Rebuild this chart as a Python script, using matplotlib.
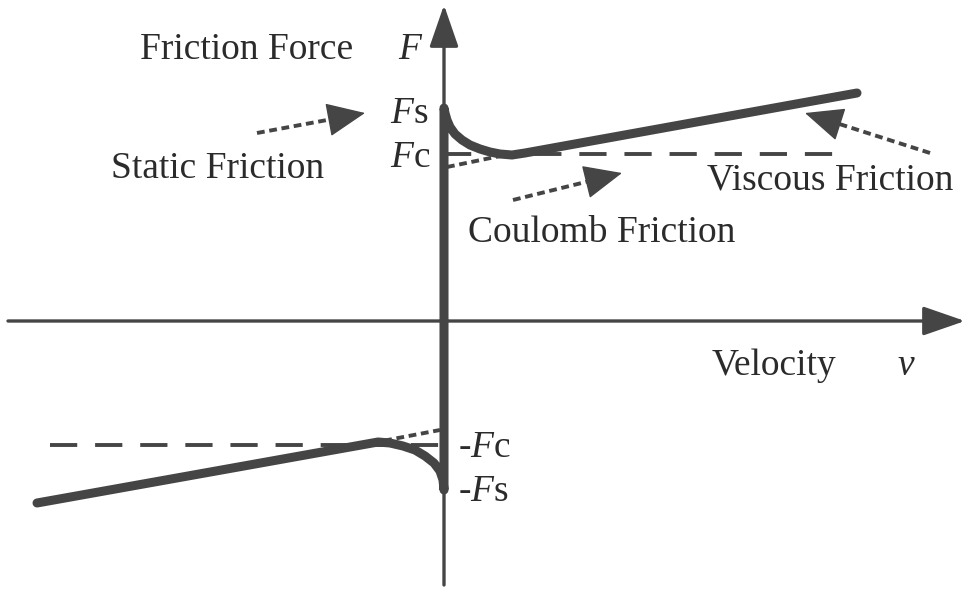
import matplotlib.pyplot as plt

plt.rcParams["font.family"] = "Liberation Serif"
plt.rcParams["mathtext.fontset"] = "custom"
plt.rcParams["mathtext.rm"] = "Liberation Serif"
plt.rcParams["mathtext.it"] = "Liberation Serif:italic"

# Stribeck friction curve (v: velocity, f: force)
upper_v = [0, 0, 1, 3, 6, 11, 18, 26, 36, 46, 56, 68, 81, 413]
upper_f = [0, 213, 208, 201, 194, 187, 181, 176, 172, 169, 167, 166, 168, 228]
lower_v = [0, 0, -1, -4, -10, -19, -29, -41, -54, -66, -407]
lower_f = [0, -169, -159, -150, -142, -135, -129, -125, -122, -121, -182]

# Coulomb level (+Fc / -Fc) and viscous extensions back to the force axis
fc_v = [0, 401]
fc_f = [167, 167]
neg_fc_v = [-394, 0]
neg_fc_f = [-124, -124]
ext_up_v = [3, 61]
ext_up_f = [154, 166]
ext_dn_v = [-72, -4]
ext_dn_f = [-122, -109]

# pointer arrows: (start, tip)
pointers = {
    "static": ((-187, 188), (-79, 208)),
    "coulomb": ((69, 121), (178, 148)),
    "viscous": ((486, 168), (361, 208)),
}

LINE = "#454545"
TEXT = "#2b2b2b"

fig = plt.figure(figsize=(9.66, 5.89), dpi=100)
ax = fig.add_axes([0, 0, 1, 1])
ax.set_xlim(-444, 522)
ax.set_ylim(-268, 321)
ax.axis("off")

# axes with arrow heads
axis_head = dict(arrowstyle="-|>,head_length=1.3,head_width=0.45",
                 color=LINE, lw=2.4, shrinkA=0, shrinkB=0, mutation_scale=20)
ax.annotate("", xy=(0, 316), xytext=(0, -264), arrowprops=axis_head)
ax.annotate("", xy=(521, 0), xytext=(-436, 0), arrowprops=axis_head)

# Coulomb friction levels
ax.plot(fc_v, fc_f, color=LINE, lw=2.8, ls=(0, (7, 4.6)), dash_capstyle="butt")
ax.plot(neg_fc_v, neg_fc_f, color=LINE, lw=2.8, ls=(0, (7, 4.6)), dash_capstyle="butt")

# viscous extension lines
ax.plot(ext_up_v, ext_up_f, color=LINE, lw=2.8, ls=(0, (2, 1.2)))
ax.plot(ext_dn_v, ext_dn_f, color=LINE, lw=2.8, ls=(0, (2, 1.2)))

# friction curve
ax.plot(upper_v, upper_f, color=LINE, lw=6.5, solid_capstyle="round", solid_joinstyle="round")
ax.plot(lower_v, lower_f, color=LINE, lw=6.5, solid_capstyle="round", solid_joinstyle="round")

# dotted pointer arrows
for (x0, y0), (x1, y1) in pointers.values():
    k = 0.8
    bx, by = x0 + (x1 - x0) * k, y0 + (y1 - y0) * k
    ax.plot([x0, bx], [y0, by], color=LINE, lw=2.8, ls=(0, (2, 1.2)))
    ax.annotate("", xy=(x1, y1), xytext=(bx, by),
                arrowprops=dict(arrowstyle="-|>,head_length=1.25,head_width=0.55",
                                color=LINE, lw=1, shrinkA=0, shrinkB=0,
                                mutation_scale=20))

fs = 27
ax.text(-304, 262, "Friction Force", fontsize=fs, color=TEXT, va="baseline")
ax.text(-46, 262, "$F$", fontsize=fs, color=TEXT, va="baseline")
ax.text(-54, 198, "$F$s", fontsize=fs, color=TEXT, va="baseline")
ax.text(-54, 154, "$F$c", fontsize=fs, color=TEXT, va="baseline")
ax.text(-333, 143, "Static Friction", fontsize=fs, color=TEXT, va="baseline")
ax.text(263, 131, "Viscous Friction", fontsize=fs, color=TEXT, va="baseline")
ax.text(24, 79, "Coulomb Friction", fontsize=fs, color=TEXT, va="baseline")
ax.text(268, -54, "Velocity", fontsize=fs, color=TEXT, va="baseline")
ax.text(453, -54, "$v$", fontsize=fs, color=TEXT, va="baseline")
ax.text(14, -136, "-$F$c", fontsize=fs, color=TEXT, va="baseline")
ax.text(14, -180, "-$F$s", fontsize=fs, color=TEXT, va="baseline")

fig.savefig("out.png", dpi=100)
